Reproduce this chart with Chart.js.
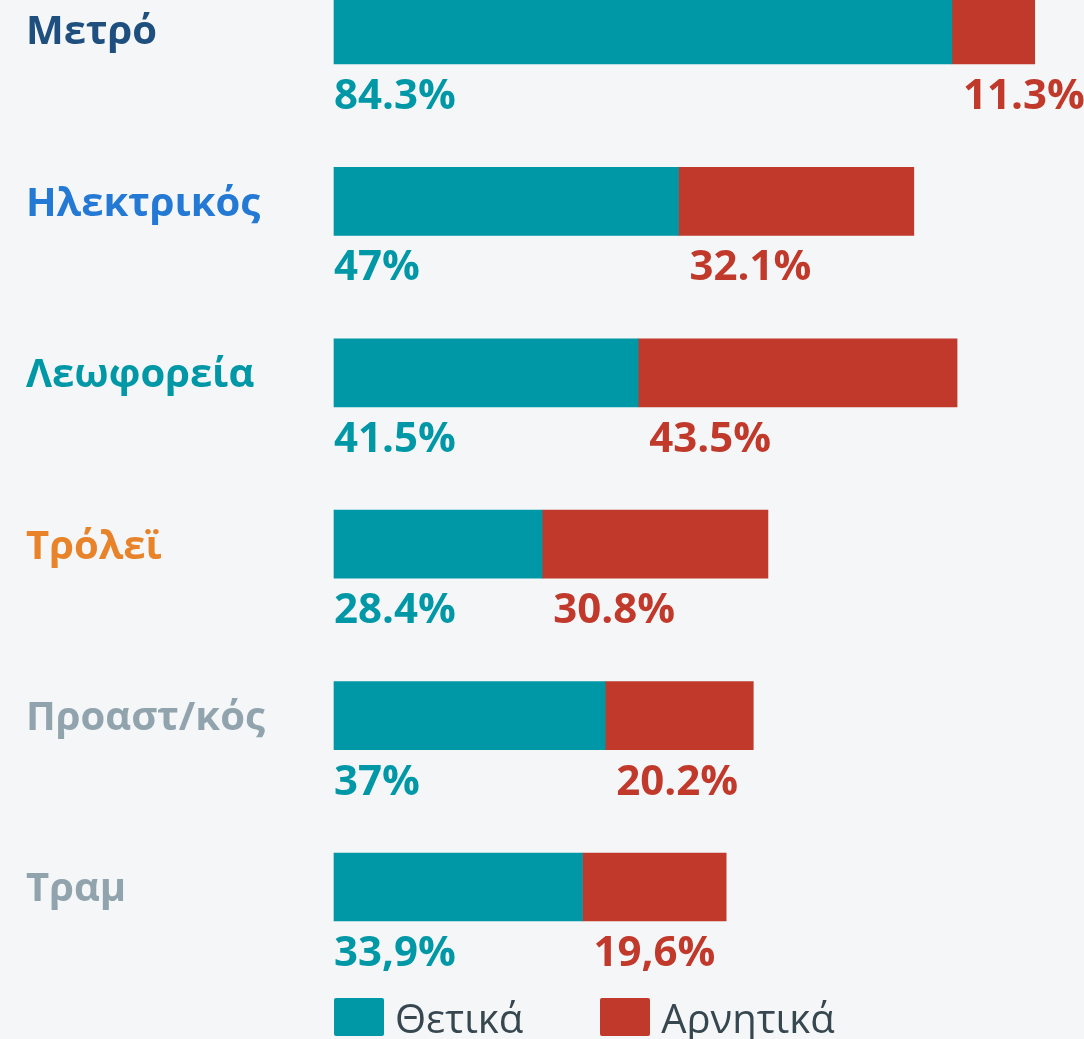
<!DOCTYPE html>
<html lang="el">
<head>
<meta charset="utf-8">
<title>Θετικά / Αρνητικά ανά μέσο</title>
<script src="https://cdn.jsdelivr.net/npm/chart.js@4.4.1/dist/chart.umd.min.js"></script>
<style>
  html, body {
    margin: 0;
    padding: 0;
    background: #f4f6f8;
    overflow: hidden;
  }
  #wrap {
    position: relative;
    width: 1084px;
    height: 1039px;
  }
  #legend {
    position: absolute;
    left: 334px;
    top: 998px;
    display: flex;
    gap: 77px;
    font-family: "Open Sans", sans-serif;
    font-size: 40px;
    color: #37474f;
  }
  .item {
    display: flex;
    align-items: center;
    height: 38px;
  }
  .swatch {
    width: 50px;
    height: 38px;
    margin-right: 11px;
    border-radius: 2px;
  }
</style>
</head>
<body>
<div id="wrap">
  <canvas id="chart"></canvas>
  <div id="legend"></div>
</div>
<script>
// Categories (transport modes) and their label colours
const categories = ["Μετρό", "Ηλεκτρικός", "Λεωφορεία", "Τρόλεϊ", "Προαστ/κός", "Τραμ"];
const categoryColors = ["#1f4f7e", "#2479d4", "#0097a7", "#e8832a", "#91a4ad", "#91a4ad"];

// Series values (%)
const positive = [84.3, 47, 41.5, 28.4, 37, 33.9];
const negative = [11.3, 32.1, 43.5, 30.8, 20.2, 19.6];

// Value labels as printed (tram uses decimal comma)
const positiveLabels = ["84.3%", "47%", "41.5%", "28.4%", "37%", "33,9%"];
const negativeLabels = ["11.3%", "32.1%", "43.5%", "30.8%", "20.2%", "19,6%"];

const TEAL = "#0097a7";
const RED = "#c0392b";

// Draw value labels under each bar segment
const valueLabels = {
  id: "valueLabels",
  afterDatasetsDraw(chart) {
    const ctx = chart.ctx;
    ctx.save();
    ctx.font = "bold 42px 'Open Sans', sans-serif";
    ctx.textAlign = "left";
    ctx.textBaseline = "alphabetic";
    chart.data.datasets.forEach((ds, di) => {
      const meta = chart.getDatasetMeta(di);
      meta.data.forEach((bar, i) => {
        const left = Math.min(bar.base, bar.x);
        const x = di === 0 ? left : left + 11;
        ctx.fillStyle = ds.backgroundColor;
        ctx.fillText(ds.valueLabels[i], x, bar.y + 79);
      });
    });
    ctx.restore();
  },
};

const ctx = document.getElementById("chart").getContext("2d");
const chart = new Chart(ctx, {
  type: "bar",
  data: {
    labels: categories,
    datasets: [
      {
        label: "Θετικά",
        data: positive,
        valueLabels: positiveLabels,
        backgroundColor: TEAL,
        barThickness: 68,
        clip: false,
      },
      {
        label: "Αρνητικά",
        data: negative,
        valueLabels: negativeLabels,
        backgroundColor: RED,
        barThickness: 68,
        clip: false,
      },
    ],
  },
  options: {
    indexAxis: "y",
    responsive: true,
    maintainAspectRatio: false,
    animation: false,
    layout: {
      padding: { top: 30, bottom: 152, left: 26, right: 17 },
    },
    scales: {
      x: {
        stacked: true,
        display: false,
        min: 0,
        max: 100,
      },
      y: {
        stacked: true,
        offset: false,
        grid: { display: false },
        border: { display: false },
        ticks: {
          crossAlign: "far",
          padding: 0,
          labelOffset: 3,
          font: { family: "'Open Sans', sans-serif", size: 40, weight: "bold" },
          color: (c) => categoryColors[c.index],
        },
        afterFit: (scale) => {
          scale.width = 308;
        },
      },
    },
    plugins: {
      legend: { display: false },
      tooltip: { enabled: false },
    },
  },
  plugins: [valueLabels],
});

// HTML legend built from the datasets
const legendEl = document.getElementById("legend");
chart.data.datasets.forEach((ds) => {
  const item = document.createElement("div");
  item.className = "item";
  const sw = document.createElement("span");
  sw.className = "swatch";
  sw.style.background = ds.backgroundColor;
  const txt = document.createElement("span");
  txt.textContent = ds.label;
  item.appendChild(sw);
  item.appendChild(txt);
  legendEl.appendChild(item);
});
</script>
</body>
</html>
